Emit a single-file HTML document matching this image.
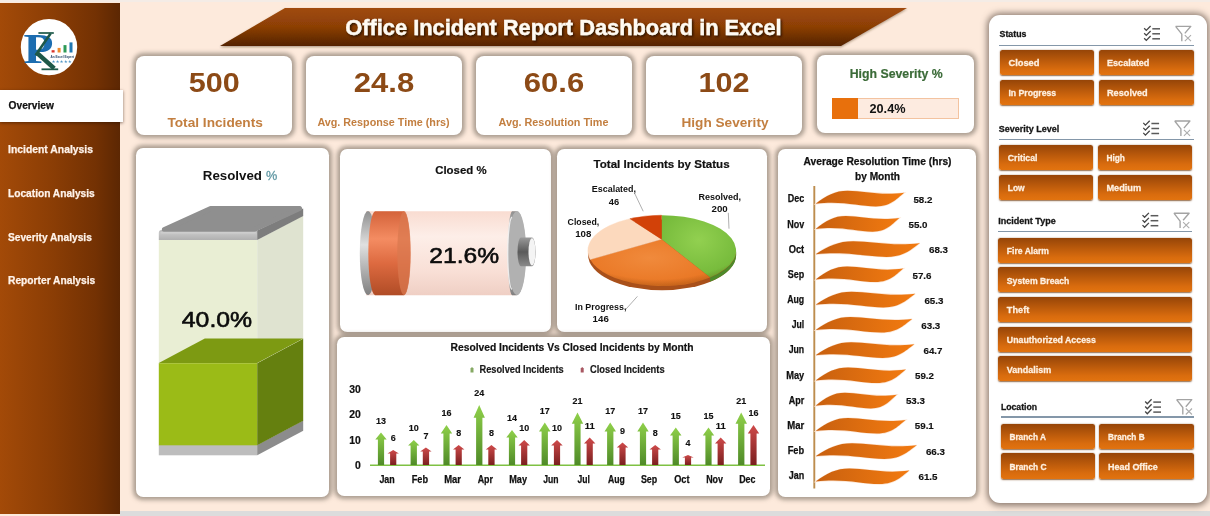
<!DOCTYPE html>
<html lang="en">
<head>
<meta charset="utf-8">
<title>Office Incident Report Dashboard in Excel</title>
<style>
*{box-sizing:border-box;margin:0;padding:0}
html,body{width:1210px;height:516px;overflow:hidden}
body{position:relative;background:#fdeadc;font-family:"Liberation Sans",Arial,sans-serif;color:#111}
.abs{position:absolute}
text.t{font-family:"Liberation Sans",Arial,sans-serif;white-space:pre}
#strip{left:120px;top:510.5px;width:1090px;height:6px;background:#dcdcdc}
#side{left:0;top:3px;width:120px;height:511px;background:linear-gradient(90deg,#a34a08 0%,#8a3d05 45%,#733103 80%,#5c2703 100%)}
#tab{left:0;top:89.5px;width:123px;height:32px;background:#fff;box-shadow:0 1px 3px rgba(40,15,0,.55)}
.card{position:absolute;background:#fff;border-radius:10px;box-shadow:0 0 4.5px 2.2px rgba(112,102,90,.58)}
.sb{position:absolute;height:25.3px;border-radius:2.5px;background:linear-gradient(180deg,#964508 0%,#b9590b 40%,#d96c0e 78%,#e2730f 100%);box-shadow:0 .5px 1.5px rgba(110,55,10,.75)}
.hl{position:absolute;height:1.3px;background:#8497a9}
svg{position:absolute;left:0;top:0;overflow:visible}
</style>
</head>
<body>
<div class="abs" id="strip"></div>
<div class="abs" style="left:0;top:0;width:1210px;height:1.5px;background:#f4ece6"></div>
<div class="abs" id="side"></div>
<div class="abs" id="tab"></div>
<div class="card" style="left:136px;top:56.2px;width:156px;height:78.7px;border-radius:8px"></div>
<div class="card" style="left:306px;top:56.2px;width:156px;height:78.7px;border-radius:8px"></div>
<div class="card" style="left:476px;top:56.2px;width:156px;height:78.7px;border-radius:8px"></div>
<div class="card" style="left:646px;top:56.2px;width:156px;height:78.7px;border-radius:8px"></div>
<div class="card" style="left:817.2px;top:54.9px;width:156.6px;height:78.6px;border-radius:8px"></div>
<div class="card" style="left:136px;top:148px;width:193px;height:349px;border-radius:7.2px"></div>
<div class="card" style="left:339.5px;top:149px;width:211px;height:183.2px;border-radius:7.2px"></div>
<div class="card" style="left:557px;top:149px;width:210px;height:183.2px;border-radius:7.2px"></div>
<div class="card" style="left:337px;top:337px;width:433px;height:159px;border-radius:7.2px"></div>
<div class="card" style="left:777.5px;top:149px;width:198.5px;height:348px;border-radius:7.2px"></div>
<div class="card" style="left:988.9px;top:14.6px;width:218.2px;height:488.4px;border-radius:11px;box-shadow:0 .5px 6px 2px rgba(95,80,70,.7)"></div>
<div class="abs" style="left:831.5px;top:98px;width:127.5px;height:21px;background:#fdebe0;border:1px solid #f3c3a0"></div>
<div class="abs" style="left:831.5px;top:98px;width:26px;height:21px;background:#e8700c"></div>
<div class="hl" style="left:999.3px;top:44.6px;width:194.8px"></div>
<div class="sb" style="left:999.8px;top:50.1px;width:94.6px;height:25.3px"></div>
<div class="sb" style="left:1098.5px;top:50.1px;width:95.0px;height:25.3px"></div>
<div class="sb" style="left:999.8px;top:79.8px;width:94.6px;height:25.3px"></div>
<div class="sb" style="left:1098.5px;top:79.8px;width:95.0px;height:25.3px"></div>
<div class="hl" style="left:998.5px;top:138.8px;width:195.0px"></div>
<div class="sb" style="left:998.8px;top:145.0px;width:94.6px;height:25.3px"></div>
<div class="sb" style="left:1097.9px;top:145.0px;width:94.6px;height:25.3px"></div>
<div class="sb" style="left:998.8px;top:174.6px;width:94.6px;height:25.3px"></div>
<div class="sb" style="left:1097.9px;top:174.6px;width:94.6px;height:25.3px"></div>
<div class="hl" style="left:997.9px;top:230.8px;width:194.6px"></div>
<div class="sb" style="left:998.2px;top:237.6px;width:194.3px;height:25.3px"></div>
<div class="sb" style="left:998.2px;top:267.2px;width:194.3px;height:25.3px"></div>
<div class="sb" style="left:998.2px;top:296.9px;width:194.3px;height:25.3px"></div>
<div class="sb" style="left:998.2px;top:326.5px;width:194.3px;height:25.3px"></div>
<div class="sb" style="left:998.2px;top:356.2px;width:194.3px;height:25.3px"></div>
<div class="hl" style="left:1000.6px;top:416.4px;width:193.9px"></div>
<div class="sb" style="left:1000.7px;top:423.6px;width:94.8px;height:25.3px"></div>
<div class="sb" style="left:1099.3px;top:423.6px;width:94.6px;height:25.3px"></div>
<div class="sb" style="left:1000.7px;top:453.4px;width:94.8px;height:25.3px"></div>
<div class="sb" style="left:1099.3px;top:453.4px;width:94.6px;height:25.3px"></div>
<svg width="1210" height="516" viewBox="0 0 1210 516">
<defs>
<linearGradient id="bg1" x1="0" y1="0" x2="0" y2="1"><stop offset="0" stop-color="#a04a09"/><stop offset=".5" stop-color="#8c3f06"/><stop offset=".82" stop-color="#682d04"/><stop offset="1" stop-color="#552302"/></linearGradient>
<filter id="bs" x="-2%" y="-20%" width="104%" height="150%"><feDropShadow dx="0" dy="1.2" stdDeviation="1.1" flood-color="#50301a" flood-opacity=".45"/></filter>
<filter id="ts" x="-5%" y="-30%" width="110%" height="170%"><feDropShadow dx="1.3" dy="1.3" stdDeviation="1.3" flood-color="#1e0a00" flood-opacity=".9"/></filter>
<linearGradient id="gG" x1="0" y1="0" x2="0" y2="1"><stop offset="0" stop-color="#8fd04a"/><stop offset="1" stop-color="#4f8a28"/></linearGradient>
<linearGradient id="gR" x1="0" y1="0" x2="0" y2="1"><stop offset="0" stop-color="#cf4a4a"/><stop offset="1" stop-color="#7a1f1f"/></linearGradient>
<linearGradient id="gW" x1="0" y1="0" x2="1" y2="0"><stop offset="0" stop-color="#c8600f"/><stop offset="1" stop-color="#f27a10"/></linearGradient>
<linearGradient id="lidF" x1="0" y1="0" x2="0" y2="1"><stop offset="0" stop-color="#b4b4b4"/><stop offset=".3" stop-color="#c6c6c6"/><stop offset="1" stop-color="#b0b0b0"/></linearGradient>
<linearGradient id="batB" x1="0" y1="0" x2="0" y2="1"><stop offset="0" stop-color="#f9dcd1"/><stop offset=".3" stop-color="#fdeee8"/><stop offset=".7" stop-color="#f9e0d7"/><stop offset="1" stop-color="#efcfc4"/></linearGradient>
<linearGradient id="batO" x1="0" y1="0" x2="0" y2="1"><stop offset="0" stop-color="#d4633a"/><stop offset=".33" stop-color="#f48c62"/><stop offset=".62" stop-color="#dd6a40"/><stop offset="1" stop-color="#b04c26"/></linearGradient>
<linearGradient id="batS" x1="0" y1="0" x2="0" y2="1"><stop offset="0" stop-color="#8f8f8f"/><stop offset=".4" stop-color="#e0e0e0"/><stop offset=".7" stop-color="#b0b0b0"/><stop offset="1" stop-color="#808080"/></linearGradient>
<linearGradient id="batT" x1="0" y1="0" x2="0" y2="1"><stop offset="0" stop-color="#9a9a9a"/><stop offset=".5" stop-color="#5a5a5a"/><stop offset="1" stop-color="#8a8a8a"/></linearGradient>
<radialGradient id="pSh" cx=".47" cy=".28" r=".78"><stop offset="0" stop-color="#5a2a00" stop-opacity="0"/><stop offset=".8" stop-color="#5a2a00" stop-opacity="0"/><stop offset="1" stop-color="#4a2a00" stop-opacity=".38"/></radialGradient>
<linearGradient id="pRim" x1="0" y1="0" x2="1" y2="0"><stop offset="0" stop-color="#c8641c" stop-opacity="0"/><stop offset=".3" stop-color="#d8701c"/><stop offset=".7" stop-color="#d8701c"/><stop offset="1" stop-color="#4d8a2a" stop-opacity="0"/></linearGradient>
<radialGradient id="pG" cx=".5" cy=".4" r=".7"><stop offset="0" stop-color="#92d050"/><stop offset="1" stop-color="#6fb536"/></radialGradient>
<radialGradient id="pO" cx=".5" cy=".4" r=".7"><stop offset="0" stop-color="#f08a3c"/><stop offset="1" stop-color="#e8731f"/></radialGradient>
</defs>
<polygon points="285,8 907,8 841,46 220,46" fill="url(#bg1)" filter="url(#bs)"/>
<text x="345.3" y="34.5" textLength="436.3" lengthAdjust="spacingAndGlyphs" font-family="Liberation Sans, Arial, sans-serif" font-weight="bold" font-size="22" fill="#fffaf2" stroke="#fffaf2" stroke-width=".35" filter="url(#ts)">Office Incident Report Dashboard in Excel</text>
<circle cx="49" cy="47.1" r="28.2" fill="#fff"/>
<text x="23.6" y="63.2" font-family="Liberation Serif, serif" font-weight="bold" font-size="41.5" fill="#1c6db0" textLength="30" lengthAdjust="spacingAndGlyphs">P</text>
<g fill="none" stroke="#1d5848" stroke-linecap="butt">
<path d="M35.6,55.2 L50.6,33.6" stroke-width="2.6"/>
<path d="M38.4,33 L53.8,33" stroke-width="1.7"/>
<path d="M36.6,52.6 L54.2,68.4" stroke-width="4.6"/>
<path d="M41.5,69.3 L58.2,69.3" stroke-width="1.8"/>
</g>
<rect x="51.6" y="50.2" width="3" height="2.3" fill="#d9342b"/>
<rect x="57.6" y="47.9" width="3" height="4.6" fill="#f08a2c"/>
<rect x="63.5" y="45.1" width="3" height="7.4" fill="#2e9a57"/>
<rect x="69.5" y="42.4" width="3" height="10.1" fill="#1f78b4"/>
<text x="50.6" y="58.4" font-family="Liberation Sans, sans-serif" font-size="3" font-weight="bold" fill="#26466a" textLength="23.4" lengthAdjust="spacingAndGlyphs">An Excel Expert</text>
<text x="51.4" y="62.6" font-family="DejaVu Sans, sans-serif" font-size="4.2" fill="#4a92c4" textLength="20.6" lengthAdjust="spacingAndGlyphs">★★★★★</text>
<rect x="158.8" y="445" width="98.4" height="10.3" fill="#bdbdbd"/>
<polygon points="257.2,445.0 303.2,420.5 303.2,430.8 257.2,455.3" fill="#8c8c8c"/>
<rect x="158.8" y="363" width="98.4" height="82.3" fill="#9bbb17"/>
<polygon points="257.2,363.0 303.2,338.5 303.2,420.8 257.2,445.3" fill="#65800f"/>
<rect x="158.8" y="240" width="98.4" height="123.2" fill="#e9eed4"/>
<polygon points="257.2,240.0 303.2,215.5 303.2,338.7 257.2,363.2" fill="#dfe3d0"/>
<polygon points="158.8,363.0 257.2,363.0 303.2,338.5 204.8,338.5" fill="#7d9a12"/>
<path d="M158.8,240 L158.8,233 Q158.8,230 161.8,230 L257.2,230 L257.2,240 Z" fill="url(#lidF)"/>
<polygon points="257.2,230.4 303.2,208.6 303.2,216 257.2,240" fill="#7d7d7d"/>
<polygon points="164.4,229.6 254.0,229.6 299.6,208.6 210.6,208.6" fill="#8f8f8f" stroke="#8f8f8f" stroke-width="5" stroke-linejoin="round"/>
<path d="M161.3,232.6 L255.2,232.6" stroke="#cdcdcd" stroke-width="1.6" fill="none" stroke-linecap="round"/>
<path d="M366,211.2 L516,211.2 L516,295.3 L366,295.3 Z" fill="url(#batB)"/>
<ellipse cx="368" cy="253.2" rx="8.2" ry="42.1" fill="url(#batS)"/>
<path d="M375,211.2 L404,211.2 A6.7,42.1 0 0 1 404,295.3 L375,295.3 A7,42.1 0 0 1 375,211.2 Z" fill="url(#batO)"/>
<ellipse cx="404" cy="253.2" rx="6.7" ry="42.1" fill="#d9784f" opacity=".75"/>
<path d="M512,211.2 L517,211.2 A9.2,42.1 0 0 1 517,295.3 L512,295.3 A4.5,42.1 0 0 1 512,211.2 Z" fill="url(#batS)"/>
<ellipse cx="517" cy="253.2" rx="9.2" ry="42.1" fill="#b1b1b1"/>
<path d="M512,217.2 A4.5,36.1 0 0 0 512,289.3" stroke="#f2f2f2" stroke-width="1.3" fill="none" opacity=".9"/>
<path d="M521,237.5 L532,237.5 A3.5,14.4 0 0 1 532,266.3 L521,266.3 A3.5,14.4 0 0 1 521,237.5 Z" fill="url(#batT)"/>
<ellipse cx="532" cy="251.9" rx="3.5" ry="13.6" fill="#f4f4f4"/>
<ellipse cx="662.0" cy="254.9" rx="73.9" ry="35.4" fill="#a9501a"/>
<path d="M736.2,250.6 A74.2,35.4 0 0 1 710.1,277.5 L710.1,281.8 A74.2,35.4 0 0 0 736.2,254.9 Z" fill="#4d8a2a"/>
<path d="M661.5,239.2 L661.5,215.2 A74.2,35.4 0 0 1 710.1,277.5 Z" fill="url(#pG)" stroke="none" stroke-width=".4"/>
<path d="M661.5,239.2 L710.1,277.5 A74.2,35.4 0 0 1 590.2,259.5 Z" fill="url(#pO)" stroke="none" stroke-width=".4"/>
<path d="M661.5,239.2 L590.2,259.5 A74.2,35.4 0 0 1 629.9,218.7 Z" fill="#fcd9bd" stroke="#fcd9bd" stroke-width=".4"/>
<path d="M661.5,239.2 L629.9,218.7 A74.2,35.4 0 0 1 661.5,215.2 Z" fill="#d24108" stroke="#d24108" stroke-width=".4"/>
<ellipse cx="662.0" cy="250.6" rx="74.2" ry="35.4" fill="url(#pSh)"/>
<path d="M634.5,193.0 L643.2,211.3" stroke="#9a9a9a" stroke-width=".8" fill="none"/>
<path d="M728.3,212.8 L729.0,228.7" stroke="#9a9a9a" stroke-width=".8" fill="none"/>
<path d="M625.2,310.0 L637.4,296.4" stroke="#9a9a9a" stroke-width=".8" fill="none"/>
<path d="M370,465.3 L765,465.3" stroke="#7fc143" stroke-width="1.6"/>
<path d="M381.0,432.5 L386.7,439.6 L384.1,439.6 L384.1,465.0 L377.9,465.0 L377.9,439.6 L375.3,439.6 Z" fill="url(#gG)"/>
<path d="M393.2,450.0 L398.9,453.5 L396.3,453.5 L396.3,465.0 L390.1,465.0 L390.1,453.5 L387.5,453.5 Z" fill="url(#gR)"/>
<path d="M413.8,440.0 L419.4,445.5 L416.9,445.5 L416.9,465.0 L410.6,465.0 L410.6,445.5 L408.1,445.5 Z" fill="url(#gG)"/>
<path d="M425.9,447.5 L431.6,451.5 L429.1,451.5 L429.1,465.0 L422.8,465.0 L422.8,451.5 L420.2,451.5 Z" fill="url(#gR)"/>
<path d="M446.5,425.0 L452.2,433.6 L449.6,433.6 L449.6,465.0 L443.4,465.0 L443.4,433.6 L440.8,433.6 Z" fill="url(#gG)"/>
<path d="M458.7,445.0 L464.4,449.5 L461.8,449.5 L461.8,465.0 L455.6,465.0 L455.6,449.5 L453.0,449.5 Z" fill="url(#gR)"/>
<path d="M479.2,405.0 L484.9,417.7 L482.4,417.7 L482.4,465.0 L476.1,465.0 L476.1,417.7 L473.6,417.7 Z" fill="url(#gG)"/>
<path d="M491.4,445.0 L497.1,449.5 L494.6,449.5 L494.6,465.0 L488.3,465.0 L488.3,449.5 L485.8,449.5 Z" fill="url(#gR)"/>
<path d="M512.0,430.0 L517.7,437.6 L515.1,437.6 L515.1,465.0 L508.9,465.0 L508.9,437.6 L506.3,437.6 Z" fill="url(#gG)"/>
<path d="M524.2,440.0 L529.9,445.5 L527.3,445.5 L527.3,465.0 L521.1,465.0 L521.1,445.5 L518.5,445.5 Z" fill="url(#gR)"/>
<path d="M544.8,422.5 L550.5,431.6 L547.9,431.6 L547.9,465.0 L541.6,465.0 L541.6,431.6 L539.0,431.6 Z" fill="url(#gG)"/>
<path d="M557.0,440.0 L562.7,445.5 L560.1,445.5 L560.1,465.0 L553.9,465.0 L553.9,445.5 L551.2,445.5 Z" fill="url(#gR)"/>
<path d="M577.5,412.5 L583.2,423.7 L580.6,423.7 L580.6,465.0 L574.4,465.0 L574.4,423.7 L571.8,423.7 Z" fill="url(#gG)"/>
<path d="M589.7,437.5 L595.4,443.5 L592.8,443.5 L592.8,465.0 L586.6,465.0 L586.6,443.5 L584.0,443.5 Z" fill="url(#gR)"/>
<path d="M610.2,422.5 L616.0,431.6 L613.4,431.6 L613.4,465.0 L607.1,465.0 L607.1,431.6 L604.5,431.6 Z" fill="url(#gG)"/>
<path d="M622.5,442.5 L628.2,447.5 L625.6,447.5 L625.6,465.0 L619.4,465.0 L619.4,447.5 L616.8,447.5 Z" fill="url(#gR)"/>
<path d="M643.0,422.5 L648.7,431.6 L646.1,431.6 L646.1,465.0 L639.9,465.0 L639.9,431.6 L637.3,431.6 Z" fill="url(#gG)"/>
<path d="M655.2,445.0 L660.9,449.5 L658.3,449.5 L658.3,465.0 L652.1,465.0 L652.1,449.5 L649.5,449.5 Z" fill="url(#gR)"/>
<path d="M675.8,427.5 L681.5,435.6 L678.9,435.6 L678.9,465.0 L672.6,465.0 L672.6,435.6 L670.0,435.6 Z" fill="url(#gG)"/>
<path d="M688.0,455.0 L693.7,457.4 L691.1,457.4 L691.1,465.0 L684.9,465.0 L684.9,457.4 L682.2,457.4 Z" fill="url(#gR)"/>
<path d="M708.5,427.5 L714.2,435.6 L711.6,435.6 L711.6,465.0 L705.4,465.0 L705.4,435.6 L702.8,435.6 Z" fill="url(#gG)"/>
<path d="M720.7,437.5 L726.4,443.5 L723.8,443.5 L723.8,465.0 L717.6,465.0 L717.6,443.5 L715.0,443.5 Z" fill="url(#gR)"/>
<path d="M741.2,412.5 L747.0,423.7 L744.4,423.7 L744.4,465.0 L738.1,465.0 L738.1,423.7 L735.5,423.7 Z" fill="url(#gG)"/>
<path d="M753.5,425.0 L759.2,433.6 L756.6,433.6 L756.6,465.0 L750.4,465.0 L750.4,433.6 L747.8,433.6 Z" fill="url(#gR)"/>
<path d="M472.0,367 L474.0,368.9 L473.5,368.9 L473.5,372.4 L470.5,372.4 L470.5,368.9 L470.0,368.9 Z" fill="#86a964"/>
<path d="M582.2,367 L584.2,368.9 L583.7,368.9 L583.7,372.4 L580.7,372.4 L580.7,368.9 L580.2,368.9 Z" fill="#a85862"/>
<path d="M814.3,186 L814.3,488.5" stroke="#bd8d4e" stroke-width="1.9"/>
<path d="M815.7,203.8 C826.3,195.5 835.2,190.8 847.6,190.8 C864.4,190.8 879.5,196.0 904.2,192.8 C898.0,197.5 891.8,206.4 875.9,206.4 C858.2,206.4 842.3,200.5 815.7,203.8 Z" fill="url(#gW)" stroke="#fbe2cf" stroke-width="1.2" paint-order="stroke"/>
<path d="M815.7,229.1 C825.7,220.8 834.1,216.1 845.8,216.1 C861.7,216.1 875.9,221.2 899.3,218.1 C893.5,222.8 887.6,231.7 872.6,231.7 C855.8,231.7 840.8,225.8 815.7,229.1 Z" fill="url(#gW)" stroke="#fbe2cf" stroke-width="1.2" paint-order="stroke"/>
<path d="M815.7,254.3 C828.2,246.0 838.6,241.3 853.2,241.3 C873.0,241.3 890.7,246.5 919.8,243.3 C912.5,248.0 905.2,256.9 886.5,256.9 C865.7,256.9 846.9,251.0 815.7,254.3 Z" fill="url(#gW)" stroke="#fbe2cf" stroke-width="1.2" paint-order="stroke"/>
<path d="M815.7,279.6 C826.2,271.2 835.0,266.6 847.2,266.6 C863.9,266.6 878.8,271.8 903.3,268.6 C897.2,273.2 891.1,282.1 875.3,282.1 C857.8,282.1 842.0,276.2 815.7,279.6 Z" fill="url(#gW)" stroke="#fbe2cf" stroke-width="1.2" paint-order="stroke"/>
<path d="M815.7,304.8 C827.6,296.5 837.6,291.8 851.5,291.8 C870.4,291.8 887.3,297.0 915.2,293.8 C908.2,298.5 901.3,307.4 883.4,307.4 C863.5,307.4 845.5,301.5 815.7,304.8 Z" fill="url(#gW)" stroke="#fbe2cf" stroke-width="1.2" paint-order="stroke"/>
<path d="M815.7,330.1 C827.3,321.8 836.9,317.1 850.4,317.1 C868.7,317.1 885.1,322.2 912.1,319.1 C905.4,323.8 898.6,332.6 881.3,332.6 C862.0,332.6 844.6,326.8 815.7,330.1 Z" fill="url(#gW)" stroke="#fbe2cf" stroke-width="1.2" paint-order="stroke"/>
<path d="M815.7,355.3 C827.5,347.0 837.4,342.3 851.2,342.3 C869.9,342.3 886.7,347.5 914.3,344.3 C907.4,349.0 900.5,357.9 882.7,357.9 C863.0,357.9 845.3,352.0 815.7,355.3 Z" fill="url(#gW)" stroke="#fbe2cf" stroke-width="1.2" paint-order="stroke"/>
<path d="M815.7,380.6 C826.5,372.2 835.5,367.6 848.1,367.6 C865.2,367.6 880.6,372.8 905.8,369.6 C899.5,374.2 893.2,383.1 877.0,383.1 C858.9,383.1 842.7,377.2 815.7,380.6 Z" fill="url(#gW)" stroke="#fbe2cf" stroke-width="1.2" paint-order="stroke"/>
<path d="M815.7,405.8 C825.4,397.5 833.5,392.8 844.9,392.8 C860.2,392.8 874.0,398.0 896.7,394.8 C891.0,399.5 885.4,408.4 870.8,408.4 C854.6,408.4 840.0,402.5 815.7,405.8 Z" fill="url(#gW)" stroke="#fbe2cf" stroke-width="1.2" paint-order="stroke"/>
<path d="M815.7,431.1 C826.5,422.8 835.5,418.1 848.1,418.1 C865.2,418.1 880.5,423.2 905.6,420.1 C899.3,424.8 893.0,433.6 876.9,433.6 C858.9,433.6 842.7,427.8 815.7,431.1 Z" fill="url(#gW)" stroke="#fbe2cf" stroke-width="1.2" paint-order="stroke"/>
<path d="M815.7,456.3 C827.8,448.0 837.9,443.3 852.1,443.3 C871.3,443.3 888.4,448.5 916.7,445.3 C909.7,450.0 902.6,458.9 884.4,458.9 C864.2,458.9 846.0,453.0 815.7,456.3 Z" fill="url(#gW)" stroke="#fbe2cf" stroke-width="1.2" paint-order="stroke"/>
<path d="M815.7,481.6 C826.9,473.2 836.3,468.6 849.4,468.6 C867.2,468.6 883.1,473.8 909.3,470.6 C902.8,475.2 896.2,484.1 879.4,484.1 C860.6,484.1 843.8,478.2 815.7,481.6 Z" fill="url(#gW)" stroke="#fbe2cf" stroke-width="1.2" paint-order="stroke"/>
<path d="M1144.2,28.2 L1146.3,30.4 L1150.6,26.0" stroke="#454545" stroke-width="1.3" fill="none"/>
<path d="M1152.3,28.8 L1160.0,28.8" stroke="#5a5a5a" stroke-width="1.5" fill="none"/>
<path d="M1144.2,33.2 L1146.3,35.4 L1150.6,31.0" stroke="#454545" stroke-width="1.3" fill="none"/>
<path d="M1152.3,33.8 L1160.0,33.8" stroke="#5a5a5a" stroke-width="1.5" fill="none"/>
<path d="M1144.2,38.2 L1146.3,40.4 L1150.6,36.0" stroke="#454545" stroke-width="1.3" fill="none"/>
<path d="M1152.3,38.8 L1160.0,38.8" stroke="#5a5a5a" stroke-width="1.5" fill="none"/>
<path d="M1175.6,26.3 L1190.8,26.3 L1184.8,33.4 M1175.6,26.3 L1181.8,34.2 L1181.8,41.2" stroke="#a3a3a3" stroke-width="1.35" fill="none" stroke-linejoin="round"/>
<path d="M1184.8,35.2 L1191.0,41.2 M1191.0,35.2 L1184.8,41.2" stroke="#adadad" stroke-width="1.1" fill="none"/>
<path d="M1143.3,122.9 L1145.4,125.1 L1149.7,120.7" stroke="#454545" stroke-width="1.3" fill="none"/>
<path d="M1151.4,123.5 L1159.1,123.5" stroke="#5a5a5a" stroke-width="1.5" fill="none"/>
<path d="M1143.3,127.9 L1145.4,130.1 L1149.7,125.7" stroke="#454545" stroke-width="1.3" fill="none"/>
<path d="M1151.4,128.5 L1159.1,128.5" stroke="#5a5a5a" stroke-width="1.5" fill="none"/>
<path d="M1143.3,132.9 L1145.4,135.1 L1149.7,130.7" stroke="#454545" stroke-width="1.3" fill="none"/>
<path d="M1151.4,133.5 L1159.1,133.5" stroke="#5a5a5a" stroke-width="1.5" fill="none"/>
<path d="M1174.7,121.0 L1189.9,121.0 L1183.9,128.1 M1174.7,121.0 L1180.9,128.9 L1180.9,135.9" stroke="#a3a3a3" stroke-width="1.35" fill="none" stroke-linejoin="round"/>
<path d="M1183.9,129.9 L1190.1,135.9 M1190.1,129.9 L1183.9,135.9" stroke="#adadad" stroke-width="1.1" fill="none"/>
<path d="M1142.5,215.1 L1144.6,217.3 L1148.9,212.9" stroke="#454545" stroke-width="1.3" fill="none"/>
<path d="M1150.6,215.7 L1158.3,215.7" stroke="#5a5a5a" stroke-width="1.5" fill="none"/>
<path d="M1142.5,220.1 L1144.6,222.3 L1148.9,217.9" stroke="#454545" stroke-width="1.3" fill="none"/>
<path d="M1150.6,220.7 L1158.3,220.7" stroke="#5a5a5a" stroke-width="1.5" fill="none"/>
<path d="M1142.5,225.1 L1144.6,227.3 L1148.9,222.9" stroke="#454545" stroke-width="1.3" fill="none"/>
<path d="M1150.6,225.7 L1158.3,225.7" stroke="#5a5a5a" stroke-width="1.5" fill="none"/>
<path d="M1173.9,213.2 L1189.1,213.2 L1183.1,220.3 M1173.9,213.2 L1180.1,221.1 L1180.1,228.1" stroke="#a3a3a3" stroke-width="1.35" fill="none" stroke-linejoin="round"/>
<path d="M1183.1,222.1 L1189.3,228.1 M1189.3,222.1 L1183.1,228.1" stroke="#adadad" stroke-width="1.1" fill="none"/>
<path d="M1145.2,401.5 L1147.3,403.7 L1151.6,399.3" stroke="#454545" stroke-width="1.3" fill="none"/>
<path d="M1153.3,402.1 L1161.0,402.1" stroke="#5a5a5a" stroke-width="1.5" fill="none"/>
<path d="M1145.2,406.5 L1147.3,408.7 L1151.6,404.3" stroke="#454545" stroke-width="1.3" fill="none"/>
<path d="M1153.3,407.1 L1161.0,407.1" stroke="#5a5a5a" stroke-width="1.5" fill="none"/>
<path d="M1145.2,411.5 L1147.3,413.7 L1151.6,409.3" stroke="#454545" stroke-width="1.3" fill="none"/>
<path d="M1153.3,412.1 L1161.0,412.1" stroke="#5a5a5a" stroke-width="1.5" fill="none"/>
<path d="M1176.6,399.6 L1191.8,399.6 L1185.8,406.7 M1176.6,399.6 L1182.8,407.5 L1182.8,414.5" stroke="#a3a3a3" stroke-width="1.35" fill="none" stroke-linejoin="round"/>
<path d="M1185.8,408.5 L1192.0,414.5 M1192.0,408.5 L1185.8,414.5" stroke="#adadad" stroke-width="1.1" fill="none"/>
</svg>
<svg width="1210" height="516" viewBox="0 0 1210 516">
<text class="t" x="8.6" y="108.83" font-size="10.70" fill="#111" font-weight="bold" textLength="45.3" lengthAdjust="spacingAndGlyphs" stroke="#111" stroke-width="0.25" stroke-linejoin="round">Overview</text>
<text class="t" x="8.0" y="152.93" font-size="10.70" fill="#fff3ea" font-weight="bold" textLength="85.0" lengthAdjust="spacingAndGlyphs" stroke="#fff3ea" stroke-width="0.25" stroke-linejoin="round">Incident Analysis</text>
<text class="t" x="8.0" y="196.83" font-size="10.70" fill="#fff3ea" font-weight="bold" textLength="86.7" lengthAdjust="spacingAndGlyphs" stroke="#fff3ea" stroke-width="0.25" stroke-linejoin="round">Location Analysis</text>
<text class="t" x="8.0" y="241.03" font-size="10.70" fill="#fff3ea" font-weight="bold" textLength="83.8" lengthAdjust="spacingAndGlyphs" stroke="#fff3ea" stroke-width="0.25" stroke-linejoin="round">Severity Analysis</text>
<text class="t" x="8.0" y="284.43" font-size="10.70" fill="#fff3ea" font-weight="bold" textLength="87.2" lengthAdjust="spacingAndGlyphs" stroke="#fff3ea" stroke-width="0.25" stroke-linejoin="round">Reporter Analysis</text>
<text class="t" x="188.7" y="92.42" font-size="28.00" fill="#8c4a16" font-weight="bold" textLength="51.0" lengthAdjust="spacingAndGlyphs">500</text>
<text class="t" x="353.8" y="92.42" font-size="28.00" fill="#8c4a16" font-weight="bold" textLength="60.4" lengthAdjust="spacingAndGlyphs">24.8</text>
<text class="t" x="523.8" y="92.42" font-size="28.00" fill="#8c4a16" font-weight="bold" textLength="60.4" lengthAdjust="spacingAndGlyphs">60.6</text>
<text class="t" x="698.5" y="92.42" font-size="28.00" fill="#8c4a16" font-weight="bold" textLength="51.0" lengthAdjust="spacingAndGlyphs">102</text>
<text class="t" x="167.4" y="126.57" font-size="13.60" fill="#c37f40" font-weight="bold" textLength="95.5" lengthAdjust="spacingAndGlyphs">Total Incidents</text>
<text class="t" x="317.4" y="126.24" font-size="11.00" fill="#c37f40" font-weight="bold" textLength="132.3" lengthAdjust="spacingAndGlyphs">Avg. Response Time (hrs)</text>
<text class="t" x="498.5" y="126.24" font-size="11.00" fill="#c37f40" font-weight="bold" textLength="110.0" lengthAdjust="spacingAndGlyphs">Avg. Resolution Time</text>
<text class="t" x="681.5" y="126.57" font-size="13.60" fill="#c37f40" font-weight="bold" textLength="87.0" lengthAdjust="spacingAndGlyphs">High Severity</text>
<text class="t" x="849.7" y="78.11" font-size="12.60" fill="#3b6b38" font-weight="bold" textLength="93.0" lengthAdjust="spacingAndGlyphs" stroke="#3b6b38" stroke-width="0.20" stroke-linejoin="round">High Severity %</text>
<text class="t" x="869.5" y="113.23" font-size="13.20" fill="#111" font-weight="bold" textLength="36.0" lengthAdjust="spacingAndGlyphs">20.4%</text>
<text class="t" x="202.8" y="180.09" font-size="13.10" fill="#111" font-weight="bold" textLength="59.2" lengthAdjust="spacingAndGlyphs">Resolved</text>
<text class="t" x="266.0" y="180.09" font-size="13.10" fill="#5f97a3" font-weight="normal" textLength="11.3" lengthAdjust="spacingAndGlyphs" stroke="#5f97a3" stroke-width="0.30" stroke-linejoin="round">%</text>
<text class="t" x="181.8" y="326.79" font-size="22.60" fill="#0c0c0c" font-weight="normal" textLength="70.4" lengthAdjust="spacingAndGlyphs" stroke="#0c0c0c" stroke-width="0.60" stroke-linejoin="round">40.0%</text>
<text class="t" x="435.2" y="173.75" font-size="11.60" fill="#111" font-weight="bold" textLength="51.4" lengthAdjust="spacingAndGlyphs" stroke="#111" stroke-width="0.20" stroke-linejoin="round">Closed %</text>
<text class="t" x="429.3" y="263.39" font-size="22.60" fill="#0c0c0c" font-weight="normal" textLength="69.8" lengthAdjust="spacingAndGlyphs" stroke="#0c0c0c" stroke-width="0.60" stroke-linejoin="round">21.6%</text>
<text class="t" x="593.5" y="167.95" font-size="11.60" fill="#111" font-weight="bold" textLength="136.1" lengthAdjust="spacingAndGlyphs" stroke="#111" stroke-width="0.20" stroke-linejoin="round">Total Incidents by Status</text>
<text class="t" x="591.8" y="192.47" font-size="9.40" fill="#111" font-weight="bold" textLength="44.2" lengthAdjust="spacingAndGlyphs">Escalated,</text>
<text class="t" x="608.7" y="205.07" font-size="9.40" fill="#111" font-weight="bold" textLength="10.4" lengthAdjust="spacingAndGlyphs">46</text>
<text class="t" x="698.4" y="199.77" font-size="9.40" fill="#111" font-weight="bold" textLength="42.6" lengthAdjust="spacingAndGlyphs">Resolved,</text>
<text class="t" x="711.5" y="212.27" font-size="9.40" fill="#111" font-weight="bold" textLength="16.2" lengthAdjust="spacingAndGlyphs">200</text>
<text class="t" x="567.6" y="224.57" font-size="9.40" fill="#111" font-weight="bold" textLength="31.6" lengthAdjust="spacingAndGlyphs">Closed,</text>
<text class="t" x="575.2" y="237.17" font-size="9.40" fill="#111" font-weight="bold" textLength="16.2" lengthAdjust="spacingAndGlyphs">108</text>
<text class="t" x="575.0" y="309.57" font-size="9.40" fill="#111" font-weight="bold" textLength="51.4" lengthAdjust="spacingAndGlyphs">In Progress,</text>
<text class="t" x="592.6" y="322.27" font-size="9.40" fill="#111" font-weight="bold" textLength="16.2" lengthAdjust="spacingAndGlyphs">146</text>
<text class="t" x="450.5" y="350.66" font-size="10.50" fill="#111" font-weight="bold" textLength="243.0" lengthAdjust="spacingAndGlyphs" stroke="#111" stroke-width="0.20" stroke-linejoin="round">Resolved Incidents Vs Closed Incidents by Month</text>
<text class="t" x="479.5" y="372.65" font-size="10.20" fill="#1a1a1a" font-weight="bold" textLength="84.1" lengthAdjust="spacingAndGlyphs" stroke="#1a1a1a" stroke-width="0.20" stroke-linejoin="round">Resolved Incidents</text>
<text class="t" x="590.0" y="372.65" font-size="10.20" fill="#1a1a1a" font-weight="bold" textLength="74.6" lengthAdjust="spacingAndGlyphs" stroke="#1a1a1a" stroke-width="0.20" stroke-linejoin="round">Closed Incidents</text>
<text class="t" x="349.2" y="393.19" font-size="10.30" fill="#111" font-weight="bold" textLength="11.6" lengthAdjust="spacingAndGlyphs" stroke="#111" stroke-width="0.20" stroke-linejoin="round">30</text>
<text class="t" x="349.2" y="418.19" font-size="10.30" fill="#111" font-weight="bold" textLength="11.6" lengthAdjust="spacingAndGlyphs" stroke="#111" stroke-width="0.20" stroke-linejoin="round">20</text>
<text class="t" x="349.2" y="443.59" font-size="10.30" fill="#111" font-weight="bold" textLength="11.6" lengthAdjust="spacingAndGlyphs" stroke="#111" stroke-width="0.20" stroke-linejoin="round">10</text>
<text class="t" x="355.0" y="468.59" font-size="10.30" fill="#111" font-weight="bold" textLength="5.8" lengthAdjust="spacingAndGlyphs" stroke="#111" stroke-width="0.20" stroke-linejoin="round">0</text>
<text class="t" x="379.4" y="482.55" font-size="10.20" fill="#111" font-weight="bold" textLength="15.3" lengthAdjust="spacingAndGlyphs" stroke="#111" stroke-width="0.25" stroke-linejoin="round">Jan</text>
<text class="t" x="411.7" y="482.55" font-size="10.20" fill="#111" font-weight="bold" textLength="16.3" lengthAdjust="spacingAndGlyphs" stroke="#111" stroke-width="0.25" stroke-linejoin="round">Feb</text>
<text class="t" x="444.2" y="482.55" font-size="10.20" fill="#111" font-weight="bold" textLength="16.8" lengthAdjust="spacingAndGlyphs" stroke="#111" stroke-width="0.25" stroke-linejoin="round">Mar</text>
<text class="t" x="477.7" y="482.55" font-size="10.20" fill="#111" font-weight="bold" textLength="15.3" lengthAdjust="spacingAndGlyphs" stroke="#111" stroke-width="0.25" stroke-linejoin="round">Apr</text>
<text class="t" x="509.2" y="482.55" font-size="10.20" fill="#111" font-weight="bold" textLength="17.8" lengthAdjust="spacingAndGlyphs" stroke="#111" stroke-width="0.25" stroke-linejoin="round">May</text>
<text class="t" x="543.2" y="482.55" font-size="10.20" fill="#111" font-weight="bold" textLength="15.3" lengthAdjust="spacingAndGlyphs" stroke="#111" stroke-width="0.25" stroke-linejoin="round">Jun</text>
<text class="t" x="577.4" y="482.55" font-size="10.20" fill="#111" font-weight="bold" textLength="12.4" lengthAdjust="spacingAndGlyphs" stroke="#111" stroke-width="0.25" stroke-linejoin="round">Jul</text>
<text class="t" x="607.9" y="482.55" font-size="10.20" fill="#111" font-weight="bold" textLength="16.8" lengthAdjust="spacingAndGlyphs" stroke="#111" stroke-width="0.25" stroke-linejoin="round">Aug</text>
<text class="t" x="640.9" y="482.55" font-size="10.20" fill="#111" font-weight="bold" textLength="16.3" lengthAdjust="spacingAndGlyphs" stroke="#111" stroke-width="0.25" stroke-linejoin="round">Sep</text>
<text class="t" x="674.2" y="482.55" font-size="10.20" fill="#111" font-weight="bold" textLength="15.3" lengthAdjust="spacingAndGlyphs" stroke="#111" stroke-width="0.25" stroke-linejoin="round">Oct</text>
<text class="t" x="706.2" y="482.55" font-size="10.20" fill="#111" font-weight="bold" textLength="16.8" lengthAdjust="spacingAndGlyphs" stroke="#111" stroke-width="0.25" stroke-linejoin="round">Nov</text>
<text class="t" x="739.2" y="482.55" font-size="10.20" fill="#111" font-weight="bold" textLength="16.3" lengthAdjust="spacingAndGlyphs" stroke="#111" stroke-width="0.25" stroke-linejoin="round">Dec</text>
<text class="t" x="376.0" y="423.89" font-size="9.20" fill="#111" font-weight="bold" textLength="10.0" lengthAdjust="spacingAndGlyphs" stroke="#111" stroke-width="0.15" stroke-linejoin="round">13</text>
<text class="t" x="390.7" y="441.39" font-size="9.20" fill="#111" font-weight="bold" textLength="5.0" lengthAdjust="spacingAndGlyphs" stroke="#111" stroke-width="0.15" stroke-linejoin="round">6</text>
<text class="t" x="408.8" y="431.39" font-size="9.20" fill="#111" font-weight="bold" textLength="10.0" lengthAdjust="spacingAndGlyphs" stroke="#111" stroke-width="0.15" stroke-linejoin="round">10</text>
<text class="t" x="423.4" y="438.89" font-size="9.20" fill="#111" font-weight="bold" textLength="5.0" lengthAdjust="spacingAndGlyphs" stroke="#111" stroke-width="0.15" stroke-linejoin="round">7</text>
<text class="t" x="441.5" y="416.39" font-size="9.20" fill="#111" font-weight="bold" textLength="10.0" lengthAdjust="spacingAndGlyphs" stroke="#111" stroke-width="0.15" stroke-linejoin="round">16</text>
<text class="t" x="456.2" y="436.39" font-size="9.20" fill="#111" font-weight="bold" textLength="5.0" lengthAdjust="spacingAndGlyphs" stroke="#111" stroke-width="0.15" stroke-linejoin="round">8</text>
<text class="t" x="474.2" y="396.39" font-size="9.20" fill="#111" font-weight="bold" textLength="10.0" lengthAdjust="spacingAndGlyphs" stroke="#111" stroke-width="0.15" stroke-linejoin="round">24</text>
<text class="t" x="488.9" y="436.39" font-size="9.20" fill="#111" font-weight="bold" textLength="5.0" lengthAdjust="spacingAndGlyphs" stroke="#111" stroke-width="0.15" stroke-linejoin="round">8</text>
<text class="t" x="507.0" y="421.39" font-size="9.20" fill="#111" font-weight="bold" textLength="10.0" lengthAdjust="spacingAndGlyphs" stroke="#111" stroke-width="0.15" stroke-linejoin="round">14</text>
<text class="t" x="519.2" y="431.39" font-size="9.20" fill="#111" font-weight="bold" textLength="10.0" lengthAdjust="spacingAndGlyphs" stroke="#111" stroke-width="0.15" stroke-linejoin="round">10</text>
<text class="t" x="539.8" y="413.89" font-size="9.20" fill="#111" font-weight="bold" textLength="10.0" lengthAdjust="spacingAndGlyphs" stroke="#111" stroke-width="0.15" stroke-linejoin="round">17</text>
<text class="t" x="552.0" y="431.39" font-size="9.20" fill="#111" font-weight="bold" textLength="10.0" lengthAdjust="spacingAndGlyphs" stroke="#111" stroke-width="0.15" stroke-linejoin="round">10</text>
<text class="t" x="572.5" y="403.89" font-size="9.20" fill="#111" font-weight="bold" textLength="10.0" lengthAdjust="spacingAndGlyphs" stroke="#111" stroke-width="0.15" stroke-linejoin="round">21</text>
<text class="t" x="584.7" y="428.89" font-size="9.20" fill="#111" font-weight="bold" textLength="10.0" lengthAdjust="spacingAndGlyphs" stroke="#111" stroke-width="0.15" stroke-linejoin="round">11</text>
<text class="t" x="605.2" y="413.89" font-size="9.20" fill="#111" font-weight="bold" textLength="10.0" lengthAdjust="spacingAndGlyphs" stroke="#111" stroke-width="0.15" stroke-linejoin="round">17</text>
<text class="t" x="620.0" y="433.89" font-size="9.20" fill="#111" font-weight="bold" textLength="5.0" lengthAdjust="spacingAndGlyphs" stroke="#111" stroke-width="0.15" stroke-linejoin="round">9</text>
<text class="t" x="638.0" y="413.89" font-size="9.20" fill="#111" font-weight="bold" textLength="10.0" lengthAdjust="spacingAndGlyphs" stroke="#111" stroke-width="0.15" stroke-linejoin="round">17</text>
<text class="t" x="652.7" y="436.39" font-size="9.20" fill="#111" font-weight="bold" textLength="5.0" lengthAdjust="spacingAndGlyphs" stroke="#111" stroke-width="0.15" stroke-linejoin="round">8</text>
<text class="t" x="670.8" y="418.89" font-size="9.20" fill="#111" font-weight="bold" textLength="10.0" lengthAdjust="spacingAndGlyphs" stroke="#111" stroke-width="0.15" stroke-linejoin="round">15</text>
<text class="t" x="685.5" y="446.39" font-size="9.20" fill="#111" font-weight="bold" textLength="5.0" lengthAdjust="spacingAndGlyphs" stroke="#111" stroke-width="0.15" stroke-linejoin="round">4</text>
<text class="t" x="703.5" y="418.89" font-size="9.20" fill="#111" font-weight="bold" textLength="10.0" lengthAdjust="spacingAndGlyphs" stroke="#111" stroke-width="0.15" stroke-linejoin="round">15</text>
<text class="t" x="715.7" y="428.89" font-size="9.20" fill="#111" font-weight="bold" textLength="10.0" lengthAdjust="spacingAndGlyphs" stroke="#111" stroke-width="0.15" stroke-linejoin="round">11</text>
<text class="t" x="736.2" y="403.89" font-size="9.20" fill="#111" font-weight="bold" textLength="10.0" lengthAdjust="spacingAndGlyphs" stroke="#111" stroke-width="0.15" stroke-linejoin="round">21</text>
<text class="t" x="748.5" y="416.39" font-size="9.20" fill="#111" font-weight="bold" textLength="10.0" lengthAdjust="spacingAndGlyphs" stroke="#111" stroke-width="0.15" stroke-linejoin="round">16</text>
<text class="t" x="803.5" y="165.09" font-size="10.60" fill="#111" font-weight="bold" textLength="148.0" lengthAdjust="spacingAndGlyphs" stroke="#111" stroke-width="0.25" stroke-linejoin="round">Average Resolution Time (hrs)</text>
<text class="t" x="855.0" y="180.09" font-size="10.60" fill="#111" font-weight="bold" textLength="45.0" lengthAdjust="spacingAndGlyphs" stroke="#111" stroke-width="0.25" stroke-linejoin="round">by Month</text>
<text class="t" x="787.7" y="202.35" font-size="10.20" fill="#111" font-weight="bold" textLength="16.5" lengthAdjust="spacingAndGlyphs" stroke="#111" stroke-width="0.25" stroke-linejoin="round">Dec</text>
<text class="t" x="913.4" y="203.04" font-size="9.90" fill="#111" font-weight="bold" textLength="19.0" lengthAdjust="spacingAndGlyphs" stroke="#111" stroke-width="0.15" stroke-linejoin="round">58.2</text>
<text class="t" x="787.2" y="227.53" font-size="10.20" fill="#111" font-weight="bold" textLength="17.0" lengthAdjust="spacingAndGlyphs" stroke="#111" stroke-width="0.25" stroke-linejoin="round">Nov</text>
<text class="t" x="908.5" y="228.20" font-size="9.90" fill="#111" font-weight="bold" textLength="19.0" lengthAdjust="spacingAndGlyphs" stroke="#111" stroke-width="0.15" stroke-linejoin="round">55.0</text>
<text class="t" x="788.7" y="252.71" font-size="10.20" fill="#111" font-weight="bold" textLength="15.5" lengthAdjust="spacingAndGlyphs" stroke="#111" stroke-width="0.25" stroke-linejoin="round">Oct</text>
<text class="t" x="929.0" y="253.36" font-size="9.90" fill="#111" font-weight="bold" textLength="19.0" lengthAdjust="spacingAndGlyphs" stroke="#111" stroke-width="0.15" stroke-linejoin="round">68.3</text>
<text class="t" x="787.7" y="277.89" font-size="10.20" fill="#111" font-weight="bold" textLength="16.5" lengthAdjust="spacingAndGlyphs" stroke="#111" stroke-width="0.25" stroke-linejoin="round">Sep</text>
<text class="t" x="912.5" y="278.52" font-size="9.90" fill="#111" font-weight="bold" textLength="19.0" lengthAdjust="spacingAndGlyphs" stroke="#111" stroke-width="0.15" stroke-linejoin="round">57.6</text>
<text class="t" x="787.2" y="303.07" font-size="10.20" fill="#111" font-weight="bold" textLength="17.0" lengthAdjust="spacingAndGlyphs" stroke="#111" stroke-width="0.25" stroke-linejoin="round">Aug</text>
<text class="t" x="924.4" y="303.68" font-size="9.90" fill="#111" font-weight="bold" textLength="19.0" lengthAdjust="spacingAndGlyphs" stroke="#111" stroke-width="0.15" stroke-linejoin="round">65.3</text>
<text class="t" x="791.7" y="328.25" font-size="10.20" fill="#111" font-weight="bold" textLength="12.5" lengthAdjust="spacingAndGlyphs" stroke="#111" stroke-width="0.25" stroke-linejoin="round">Jul</text>
<text class="t" x="921.3" y="328.84" font-size="9.90" fill="#111" font-weight="bold" textLength="19.0" lengthAdjust="spacingAndGlyphs" stroke="#111" stroke-width="0.15" stroke-linejoin="round">63.3</text>
<text class="t" x="788.7" y="353.43" font-size="10.20" fill="#111" font-weight="bold" textLength="15.5" lengthAdjust="spacingAndGlyphs" stroke="#111" stroke-width="0.25" stroke-linejoin="round">Jun</text>
<text class="t" x="923.5" y="354.00" font-size="9.90" fill="#111" font-weight="bold" textLength="19.0" lengthAdjust="spacingAndGlyphs" stroke="#111" stroke-width="0.15" stroke-linejoin="round">64.7</text>
<text class="t" x="786.2" y="378.61" font-size="10.20" fill="#111" font-weight="bold" textLength="18.0" lengthAdjust="spacingAndGlyphs" stroke="#111" stroke-width="0.25" stroke-linejoin="round">May</text>
<text class="t" x="915.0" y="379.16" font-size="9.90" fill="#111" font-weight="bold" textLength="19.0" lengthAdjust="spacingAndGlyphs" stroke="#111" stroke-width="0.15" stroke-linejoin="round">59.2</text>
<text class="t" x="788.7" y="403.79" font-size="10.20" fill="#111" font-weight="bold" textLength="15.5" lengthAdjust="spacingAndGlyphs" stroke="#111" stroke-width="0.25" stroke-linejoin="round">Apr</text>
<text class="t" x="905.9" y="404.32" font-size="9.90" fill="#111" font-weight="bold" textLength="19.0" lengthAdjust="spacingAndGlyphs" stroke="#111" stroke-width="0.15" stroke-linejoin="round">53.3</text>
<text class="t" x="787.2" y="428.97" font-size="10.20" fill="#111" font-weight="bold" textLength="17.0" lengthAdjust="spacingAndGlyphs" stroke="#111" stroke-width="0.25" stroke-linejoin="round">Mar</text>
<text class="t" x="914.8" y="429.48" font-size="9.90" fill="#111" font-weight="bold" textLength="19.0" lengthAdjust="spacingAndGlyphs" stroke="#111" stroke-width="0.15" stroke-linejoin="round">59.1</text>
<text class="t" x="787.7" y="454.15" font-size="10.20" fill="#111" font-weight="bold" textLength="16.5" lengthAdjust="spacingAndGlyphs" stroke="#111" stroke-width="0.25" stroke-linejoin="round">Feb</text>
<text class="t" x="925.9" y="454.64" font-size="9.90" fill="#111" font-weight="bold" textLength="19.0" lengthAdjust="spacingAndGlyphs" stroke="#111" stroke-width="0.15" stroke-linejoin="round">66.3</text>
<text class="t" x="788.7" y="479.33" font-size="10.20" fill="#111" font-weight="bold" textLength="15.5" lengthAdjust="spacingAndGlyphs" stroke="#111" stroke-width="0.25" stroke-linejoin="round">Jan</text>
<text class="t" x="918.5" y="479.80" font-size="9.90" fill="#111" font-weight="bold" textLength="19.0" lengthAdjust="spacingAndGlyphs" stroke="#111" stroke-width="0.15" stroke-linejoin="round">61.5</text>
<text class="t" x="999.6" y="36.97" font-size="9.40" fill="#151515" font-weight="bold" textLength="26.8" lengthAdjust="spacingAndGlyphs" stroke="#151515" stroke-width="0.30" stroke-linejoin="round">Status</text>
<text class="t" x="1008.4" y="66.27" font-size="9.40" fill="#fff0e0" font-weight="bold" textLength="31.1" lengthAdjust="spacingAndGlyphs" stroke="#fff0e0" stroke-width="0.30" stroke-linejoin="round">Closed</text>
<text class="t" x="1107.0" y="66.27" font-size="9.40" fill="#fff0e0" font-weight="bold" textLength="42.4" lengthAdjust="spacingAndGlyphs" stroke="#fff0e0" stroke-width="0.30" stroke-linejoin="round">Escalated</text>
<text class="t" x="1008.4" y="96.17" font-size="9.40" fill="#fff0e0" font-weight="bold" textLength="47.8" lengthAdjust="spacingAndGlyphs" stroke="#fff0e0" stroke-width="0.30" stroke-linejoin="round">In Progress</text>
<text class="t" x="1107.0" y="96.17" font-size="9.40" fill="#fff0e0" font-weight="bold" textLength="40.7" lengthAdjust="spacingAndGlyphs" stroke="#fff0e0" stroke-width="0.30" stroke-linejoin="round">Resolved</text>
<text class="t" x="998.8" y="131.67" font-size="9.40" fill="#151515" font-weight="bold" textLength="60.5" lengthAdjust="spacingAndGlyphs" stroke="#151515" stroke-width="0.30" stroke-linejoin="round">Severity Level</text>
<text class="t" x="1007.8" y="160.97" font-size="9.40" fill="#fff0e0" font-weight="bold" textLength="29.7" lengthAdjust="spacingAndGlyphs" stroke="#fff0e0" stroke-width="0.30" stroke-linejoin="round">Critical</text>
<text class="t" x="1106.4" y="160.97" font-size="9.40" fill="#fff0e0" font-weight="bold" textLength="18.5" lengthAdjust="spacingAndGlyphs" stroke="#fff0e0" stroke-width="0.30" stroke-linejoin="round">High</text>
<text class="t" x="1007.8" y="190.67" font-size="9.40" fill="#fff0e0" font-weight="bold" textLength="16.9" lengthAdjust="spacingAndGlyphs" stroke="#fff0e0" stroke-width="0.30" stroke-linejoin="round">Low</text>
<text class="t" x="1106.4" y="190.67" font-size="9.40" fill="#fff0e0" font-weight="bold" textLength="34.8" lengthAdjust="spacingAndGlyphs" stroke="#fff0e0" stroke-width="0.30" stroke-linejoin="round">Medium</text>
<text class="t" x="998.2" y="223.87" font-size="9.40" fill="#151515" font-weight="bold" textLength="57.6" lengthAdjust="spacingAndGlyphs" stroke="#151515" stroke-width="0.30" stroke-linejoin="round">Incident Type</text>
<text class="t" x="1006.8" y="253.97" font-size="9.40" fill="#fff0e0" font-weight="bold" textLength="42.2" lengthAdjust="spacingAndGlyphs" stroke="#fff0e0" stroke-width="0.30" stroke-linejoin="round">Fire Alarm</text>
<text class="t" x="1006.8" y="283.62" font-size="9.40" fill="#fff0e0" font-weight="bold" textLength="62.6" lengthAdjust="spacingAndGlyphs" stroke="#fff0e0" stroke-width="0.30" stroke-linejoin="round">System Breach</text>
<text class="t" x="1006.8" y="313.27" font-size="9.40" fill="#fff0e0" font-weight="bold" textLength="22.5" lengthAdjust="spacingAndGlyphs" stroke="#fff0e0" stroke-width="0.30" stroke-linejoin="round">Theft</text>
<text class="t" x="1006.8" y="342.92" font-size="9.40" fill="#fff0e0" font-weight="bold" textLength="89.0" lengthAdjust="spacingAndGlyphs" stroke="#fff0e0" stroke-width="0.30" stroke-linejoin="round">Unauthorized Access</text>
<text class="t" x="1006.8" y="372.57" font-size="9.40" fill="#fff0e0" font-weight="bold" textLength="44.5" lengthAdjust="spacingAndGlyphs" stroke="#fff0e0" stroke-width="0.30" stroke-linejoin="round">Vandalism</text>
<text class="t" x="1000.9" y="410.27" font-size="9.40" fill="#151515" font-weight="bold" textLength="36.2" lengthAdjust="spacingAndGlyphs" stroke="#151515" stroke-width="0.30" stroke-linejoin="round">Location</text>
<text class="t" x="1009.4" y="439.77" font-size="9.40" fill="#fff0e0" font-weight="bold" textLength="36.6" lengthAdjust="spacingAndGlyphs" stroke="#fff0e0" stroke-width="0.30" stroke-linejoin="round">Branch A</text>
<text class="t" x="1108.0" y="439.77" font-size="9.40" fill="#fff0e0" font-weight="bold" textLength="36.6" lengthAdjust="spacingAndGlyphs" stroke="#fff0e0" stroke-width="0.30" stroke-linejoin="round">Branch B</text>
<text class="t" x="1009.4" y="469.57" font-size="9.40" fill="#fff0e0" font-weight="bold" textLength="37.2" lengthAdjust="spacingAndGlyphs" stroke="#fff0e0" stroke-width="0.30" stroke-linejoin="round">Branch C</text>
<text class="t" x="1108.0" y="469.57" font-size="9.40" fill="#fff0e0" font-weight="bold" textLength="49.8" lengthAdjust="spacingAndGlyphs" stroke="#fff0e0" stroke-width="0.30" stroke-linejoin="round">Head Office</text>
</svg>
</body>
</html>
